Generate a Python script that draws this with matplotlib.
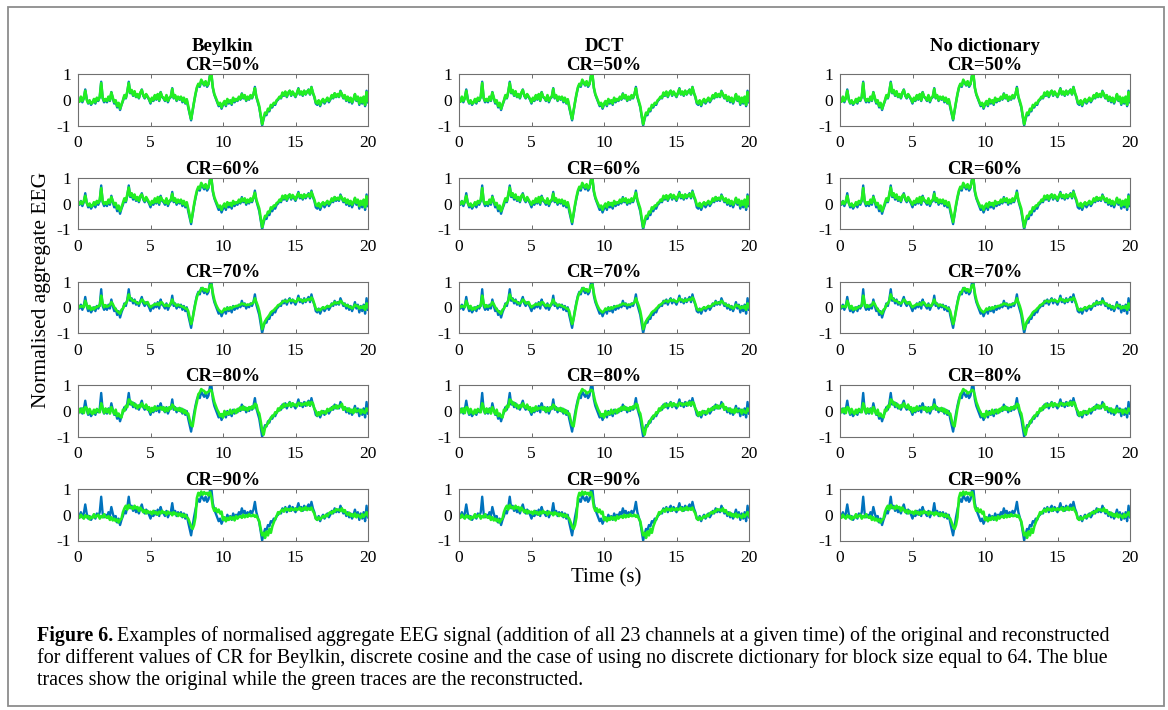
import numpy as np
import matplotlib
matplotlib.use("Agg")
import matplotlib.pyplot as plt
from matplotlib.patches import Rectangle

plt.rcParams['font.family'] = ['Liberation Serif', 'DejaVu Serif']
plt.rcParams['axes.unicode_minus'] = False

# time axis, seconds (one value every 0.1 s)
time_s = [i / 10 for i in range(201)]

# normalised aggregate EEG, original (blue)
original = [
    0.00, -0.05, 0.10, -0.10, 0.05, 0.40, 0.05, -0.15, -0.05, -0.20,
    -0.10, 0.00, -0.15, 0.05, -0.05, 0.10, 0.70, 0.05, -0.10, 0.00,
    -0.10, 0.10, -0.05, 0.30, 0.05, -0.15, -0.05, -0.30, -0.15, -0.40,
    -0.20, -0.05, 0.15, 0.05, 0.30, 0.70, 0.25, 0.35, 0.15, 0.30,
    0.10, 0.20, 0.05, 0.25, 0.40, 0.15, 0.05, 0.20, 0.10, 0.00,
    -0.15, 0.05, -0.05, 0.15, 0.00, 0.20, -0.05, 0.30, 0.10, 0.05,
    -0.05, 0.15, -0.10, 0.05, 0.10, 0.45, 0.05, 0.15, -0.05, 0.10,
    0.00, 0.10, -0.10, 0.05, -0.15, 0.00, -0.30, -0.55, -0.80, -0.45,
    -0.10, 0.20, 0.45, 0.60, 0.50, 0.75, 0.65, 0.55, 0.70, 0.50,
    0.60, 0.95, 1.00, 0.45, 0.20, 0.05, -0.10, -0.25, -0.15, -0.35,
    -0.20, -0.10, -0.25, 0.00, -0.15, -0.05, -0.20, 0.05, -0.10, 0.00,
    -0.05, 0.10, 0.00, 0.25, 0.05, 0.15, -0.05, 0.10, 0.00, 0.15,
    0.05, 0.20, 0.50, 0.10, -0.10, -0.30, -0.65, -1.00, -0.75, -0.55,
    -0.60, -0.40, -0.45, -0.25, -0.30, -0.15, -0.20, -0.05, 0.00, 0.10,
    0.05, 0.25, 0.15, 0.30, 0.10, 0.25, 0.35, 0.15, 0.30, 0.20,
    0.10, 0.25, 0.45, 0.20, 0.30, 0.15, 0.35, 0.20, 0.30, 0.40,
    0.20, 0.50, 0.25, 0.10, -0.15, -0.20, -0.05, -0.25, -0.10, 0.00,
    -0.15, -0.05, 0.05, -0.10, 0.00, 0.15, 0.05, 0.25, 0.10, 0.20,
    0.10, 0.35, 0.20, 0.05, 0.15, -0.05, 0.10, -0.10, 0.05, -0.15,
    0.00, 0.20, -0.05, 0.10, -0.20, 0.05, -0.15, 0.10, -0.25, 0.35,
    -0.10,
]

# reconstructed signals (green), one per compression ratio
recon_50 = [
    0.02, -0.08, 0.12, -0.05, 0.08, 0.35, 0.00, -0.12, -0.02, -0.15,
    -0.12, 0.03, -0.10, 0.08, -0.02, 0.12, 0.65, 0.08, -0.05, 0.03,
    -0.05, 0.12, -0.02, 0.28, 0.08, -0.10, -0.02, -0.25, -0.12, -0.35,
    -0.18, -0.02, 0.18, 0.08, 0.32, 0.65, 0.28, 0.38, 0.18, 0.33,
    0.12, 0.22, 0.08, 0.28, 0.38, 0.18, 0.08, 0.22, 0.13, 0.03,
    -0.10, 0.08, -0.02, 0.18, 0.03, 0.22, -0.02, 0.28, 0.12, 0.08,
    -0.02, 0.18, -0.05, 0.08, 0.13, 0.42, 0.08, 0.18, -0.02, 0.12,
    0.03, 0.12, -0.05, 0.08, -0.12, 0.02, -0.25, -0.50, -0.75, -0.42,
    -0.08, 0.22, 0.48, 0.62, 0.55, 0.78, 0.68, 0.58, 0.72, 0.55,
    0.62, 0.92, 0.98, 0.48, 0.22, 0.08, -0.05, -0.20, -0.12, -0.30,
    -0.15, -0.05, -0.20, 0.03, -0.10, -0.02, -0.15, 0.08, -0.05, 0.03,
    -0.02, 0.12, 0.03, 0.22, 0.08, 0.18, -0.02, 0.12, 0.03, 0.18,
    0.08, 0.22, 0.45, 0.12, -0.05, -0.25, -0.60, -0.95, -0.70, -0.50,
    -0.55, -0.35, -0.40, -0.20, -0.25, -0.12, -0.15, -0.02, 0.03, 0.12,
    0.08, 0.28, 0.18, 0.32, 0.13, 0.28, 0.35, 0.18, 0.32, 0.22,
    0.13, 0.28, 0.42, 0.22, 0.32, 0.18, 0.35, 0.22, 0.32, 0.38,
    0.22, 0.48, 0.28, 0.12, -0.10, -0.15, -0.02, -0.20, -0.05, 0.03,
    -0.10, -0.02, 0.08, -0.05, 0.03, 0.18, 0.08, 0.25, 0.12, 0.22,
    0.12, 0.32, 0.22, 0.08, 0.18, -0.02, 0.12, -0.05, 0.08, -0.10,
    0.03, 0.22, -0.02, 0.12, -0.15, 0.08, -0.10, 0.12, -0.20, 0.30,
    -0.05,
]

recon_60 = [
    0.05, -0.02, 0.08, -0.02, 0.10, 0.30, 0.02, -0.08, 0.00, -0.12,
    -0.08, 0.05, -0.05, 0.10, 0.02, 0.15, 0.60, 0.10, -0.02, 0.05,
    -0.02, 0.15, 0.02, 0.25, 0.10, -0.05, 0.02, -0.20, -0.08, -0.30,
    -0.15, 0.02, 0.20, 0.10, 0.35, 0.62, 0.30, 0.40, 0.22, 0.35,
    0.15, 0.25, 0.10, 0.30, 0.35, 0.20, 0.10, 0.25, 0.15, 0.05,
    -0.05, 0.10, 0.02, 0.20, 0.05, 0.25, 0.02, 0.25, 0.15, 0.10,
    0.02, 0.20, -0.02, 0.10, 0.15, 0.38, 0.10, 0.20, 0.02, 0.15,
    0.05, 0.15, -0.02, 0.10, -0.08, 0.05, -0.20, -0.45, -0.72, -0.40,
    -0.05, 0.25, 0.50, 0.65, 0.58, 0.80, 0.70, 0.62, 0.75, 0.58,
    0.65, 0.90, 0.95, 0.50, 0.25, 0.10, -0.02, -0.15, -0.08, -0.25,
    -0.10, 0.00, -0.15, 0.05, -0.05, 0.02, -0.10, 0.10, -0.02, 0.05,
    0.02, 0.15, 0.05, 0.20, 0.10, 0.20, 0.02, 0.15, 0.05, 0.20,
    0.10, 0.25, 0.42, 0.15, -0.02, -0.20, -0.55, -0.92, -0.68, -0.48,
    -0.50, -0.32, -0.35, -0.15, -0.20, -0.08, -0.10, 0.02, 0.05, 0.15,
    0.10, 0.30, 0.20, 0.32, 0.15, 0.30, 0.35, 0.20, 0.33, 0.25,
    0.15, 0.30, 0.40, 0.25, 0.33, 0.20, 0.35, 0.25, 0.32, 0.36,
    0.25, 0.45, 0.30, 0.15, -0.05, -0.10, 0.02, -0.15, -0.02, 0.05,
    -0.05, 0.02, 0.10, -0.02, 0.05, 0.20, 0.10, 0.25, 0.15, 0.22,
    0.15, 0.30, 0.22, 0.10, 0.20, 0.02, 0.15, -0.02, 0.10, -0.05,
    0.05, 0.22, 0.02, 0.15, -0.10, 0.10, -0.05, 0.15, -0.15, 0.28,
    -0.02,
]

recon_70 = [
    -0.05, 0.05, 0.02, 0.05, 0.00, 0.25, 0.10, -0.05, 0.05, -0.10,
    -0.02, -0.08, 0.00, 0.00, 0.05, 0.05, 0.45, 0.15, 0.00, 0.08,
    0.02, 0.05, 0.08, 0.20, 0.12, 0.00, -0.08, -0.15, -0.20, -0.25,
    -0.10, -0.05, 0.10, 0.15, 0.25, 0.50, 0.35, 0.30, 0.25, 0.25,
    0.20, 0.15, 0.15, 0.20, 0.30, 0.25, 0.15, 0.15, 0.20, 0.08,
    0.00, 0.05, 0.08, 0.12, 0.10, 0.15, 0.08, 0.20, 0.18, 0.10,
    0.05, 0.10, 0.05, 0.05, 0.18, 0.30, 0.15, 0.12, 0.05, 0.10,
    0.08, 0.05, 0.02, 0.00, -0.05, -0.05, -0.15, -0.40, -0.65, -0.45,
    -0.15, 0.15, 0.40, 0.55, 0.60, 0.72, 0.75, 0.65, 0.70, 0.60,
    0.68, 0.85, 0.88, 0.55, 0.30, 0.12, 0.00, -0.10, -0.15, -0.20,
    -0.15, -0.05, -0.10, -0.02, -0.08, 0.00, -0.05, 0.02, 0.02, 0.05,
    0.05, 0.08, 0.10, 0.15, 0.12, 0.12, 0.08, 0.10, 0.10, 0.12,
    0.15, 0.18, 0.35, 0.20, 0.05, -0.15, -0.45, -0.85, -0.70, -0.55,
    -0.45, -0.38, -0.30, -0.20, -0.15, -0.12, -0.05, 0.00, 0.08, 0.10,
    0.15, 0.20, 0.25, 0.25, 0.20, 0.25, 0.30, 0.25, 0.28, 0.25,
    0.20, 0.25, 0.35, 0.28, 0.28, 0.22, 0.30, 0.25, 0.30, 0.32,
    0.28, 0.38, 0.30, 0.12, -0.05, -0.12, -0.08, -0.12, -0.05, 0.00,
    -0.05, 0.00, 0.05, 0.02, 0.05, 0.12, 0.12, 0.20, 0.15, 0.18,
    0.15, 0.25, 0.20, 0.12, 0.12, 0.05, 0.08, 0.00, 0.02, -0.05,
    0.00, 0.10, 0.05, 0.05, -0.05, 0.02, -0.02, 0.05, -0.10, 0.15,
    0.00,
]

recon_80 = [
    -0.10, 0.08, -0.05, 0.10, -0.08, 0.15, 0.12, -0.10, 0.08, -0.05,
    -0.12, 0.05, -0.08, 0.08, 0.00, -0.05, 0.30, 0.12, -0.08, 0.10,
    -0.05, 0.08, -0.10, 0.15, 0.02, -0.12, 0.05, -0.20, -0.10, -0.22,
    -0.25, 0.05, 0.00, 0.20, 0.15, 0.45, 0.40, 0.25, 0.32, 0.18,
    0.25, 0.10, 0.22, 0.15, 0.30, 0.20, 0.12, 0.25, 0.05, 0.15,
    -0.05, 0.12, 0.00, 0.18, 0.05, 0.12, 0.10, 0.15, 0.05, 0.15,
    -0.02, 0.12, 0.00, 0.15, 0.08, 0.25, 0.18, 0.05, 0.10, 0.02,
    0.12, -0.02, 0.08, -0.08, 0.02, -0.12, -0.10, -0.35, -0.55, -0.60,
    -0.25, 0.10, 0.35, 0.65, 0.72, 0.85, 0.80, 0.78, 0.68, 0.72,
    0.75, 0.82, 0.80, 0.60, 0.35, 0.20, 0.05, -0.05, -0.20, -0.12,
    -0.25, 0.00, -0.15, -0.05, -0.12, 0.05, -0.10, -0.02, 0.05, -0.08,
    0.08, 0.00, 0.15, 0.05, 0.18, 0.05, 0.12, 0.02, 0.15, 0.08,
    0.18, 0.10, 0.28, 0.25, 0.00, -0.10, -0.40, -0.75, -0.92, -0.65,
    -0.55, -0.48, -0.35, -0.30, -0.18, -0.20, -0.05, -0.08, 0.10, 0.02,
    0.18, 0.12, 0.28, 0.18, 0.25, 0.20, 0.32, 0.18, 0.30, 0.22,
    0.25, 0.18, 0.32, 0.30, 0.22, 0.28, 0.25, 0.32, 0.22, 0.35,
    0.22, 0.35, 0.30, 0.08, 0.00, -0.18, -0.05, -0.15, 0.00, -0.08,
    -0.02, -0.10, 0.08, 0.00, 0.10, 0.05, 0.18, 0.12, 0.22, 0.10,
    0.20, 0.18, 0.28, 0.05, 0.15, 0.08, 0.00, 0.10, -0.05, 0.05,
    -0.08, 0.10, -0.02, 0.00, 0.05, -0.10, 0.05, -0.05, -0.08, 0.10,
    0.02,
]

recon_90 = [
    -0.05, -0.12, 0.00, -0.08, -0.15, -0.02, -0.10, -0.05, -0.18, -0.08,
    -0.12, 0.02, -0.10, -0.05, 0.00, -0.15, -0.05, -0.10, 0.02, -0.08,
    -0.12, -0.05, -0.20, -0.10, -0.22, -0.15, -0.25, -0.18, -0.30, -0.20,
    -0.15, 0.10, 0.25, 0.35, 0.20, 0.38, 0.28, 0.30, 0.22, 0.35,
    0.25, 0.30, 0.15, 0.28, 0.20, 0.10, 0.18, 0.05, 0.15, 0.08,
    0.12, 0.02, 0.15, 0.05, 0.10, 0.00, 0.12, 0.05, 0.15, 0.08,
    0.10, 0.00, 0.12, 0.05, 0.08, -0.02, 0.10, 0.02, 0.05, -0.05,
    0.05, -0.05, 0.02, -0.08, 0.00, -0.10, -0.15, -0.30, -0.45, -0.55,
    -0.40, -0.10, 0.65, 0.85, 0.75, 0.90, 0.78, 0.88, 0.80, 0.85,
    0.75, 0.88, 0.70, 0.30, 0.15, 0.25, 0.10, 0.20, 0.05, 0.12,
    -0.20, -0.10, -0.25, -0.12, -0.20, -0.08, -0.18, -0.10, -0.22, -0.05,
    -0.15, -0.08, -0.05, -0.12, 0.00, -0.10, -0.02, -0.08, 0.02, -0.05,
    -0.05, 0.00, -0.08, -0.02, -0.15, -0.25, -0.55, -0.80, -0.70, -0.90,
    -0.65, -0.80, -0.55, -0.70, -0.45, -0.30, -0.15, -0.05, 0.10, 0.05,
    0.15, 0.20, 0.12, 0.25, 0.18, 0.22, 0.15, 0.25, 0.20, 0.18,
    0.25, 0.18, 0.22, 0.28, 0.15, 0.25, 0.20, 0.30, 0.18, 0.25,
    0.20, 0.28, 0.15, 0.05, -0.15, -0.20, -0.10, -0.18, -0.12, -0.05,
    -0.10, 0.00, -0.05, 0.05, 0.10, 0.05, 0.15, 0.12, 0.22, 0.18,
    0.20, 0.15, 0.25, 0.12, 0.18, 0.05, 0.00, 0.08, -0.05, 0.02,
    -0.08, 0.05, -0.10, 0.00, -0.05, -0.12, 0.02, -0.08, 0.00, 0.10,
    -0.05,
]

methods = ["Beylkin", "DCT", "No dictionary"]
cr_labels = ["CR=50%", "CR=60%", "CR=70%", "CR=80%", "CR=90%"]
reconstructions = [recon_50, recon_60, recon_70, recon_80, recon_90]
x_ticks = [0, 5, 10, 15, 20]
y_ticks = [-1, 0, 1]

caption_bold = "Figure 6."
caption_lines = [
    "Examples of normalised aggregate EEG signal (addition of all 23 channels at a given time) of the original and reconstructed",
    "for different values of CR for Beylkin, discrete cosine and the case of using no discrete dictionary for block size equal to 64. The blue",
    "traces show the original while the green traces are the reconstructed.",
]

W, H = 1168, 710
fig = plt.figure(figsize=(W / 100, H / 100), dpi=100)

# outer frame round the whole figure
fig.patches.append(Rectangle((8 / W, 1 - 706 / H), 1156 / W, 699 / H,
                             transform=fig.transFigure, fill=False,
                             edgecolor="#8c8c8c", linewidth=1.3))

blue = "#0072BD"
green = "#22EE22"

for r in range(5):
    top = 74 + r * 103.75
    for c in range(3):
        left = 78 + c * 381
        ax = fig.add_axes([left / W, 1 - (top + 51.5) / H, 290 / W, 51.5 / H])
        ax.plot(time_s, original, color=blue, lw=1.7)
        ax.plot(time_s, reconstructions[r], color=green, lw=1.9)
        ax.set_xlim(0, 20)
        ax.set_ylim(-1, 1)
        ax.set_xticks(x_ticks)
        ax.set_yticks(y_ticks)
        ax.tick_params(direction="in", top=True, right=True, length=3,
                       width=0.6, color="#555555", labelsize=12.5)
        ax.tick_params(axis="x", pad=7)
        ax.tick_params(axis="y", pad=5)
        for s in ax.spines.values():
            s.set_color("#707070")
            s.set_linewidth(0.8)
        if r == 0:
            title = methods[c] + "\n" + cr_labels[r]
        else:
            title = cr_labels[r]
        ax.set_title(title, fontsize=13.5, fontweight="bold", pad=3,
                     linespacing=1.15)

fig.text(42 / W, 1 - 290 / H, "Normalised aggregate EEG", rotation=90,
         ha="center", va="center", fontsize=15.5)
fig.text(606 / W, 1 - 578 / H, "Time (s)", ha="center", va="center",
         fontsize=15)

# caption, bold lead then plain text
renderer = fig.canvas.get_renderer()
cap_size = 14.4
lead = fig.text(37 / W, 1 - 636 / H, caption_bold, fontweight="bold",
                fontsize=cap_size, va="center")
ext = lead.get_window_extent(renderer)
fig.text((ext.x1 + 4) / W, 1 - 636 / H, caption_lines[0],
         fontsize=cap_size, va="center")
for i, line in enumerate(caption_lines[1:]):
    fig.text(37 / W, 1 - (658 + 22 * i) / H, line, fontsize=cap_size,
             va="center")

fig.savefig("out.png", dpi=100)
